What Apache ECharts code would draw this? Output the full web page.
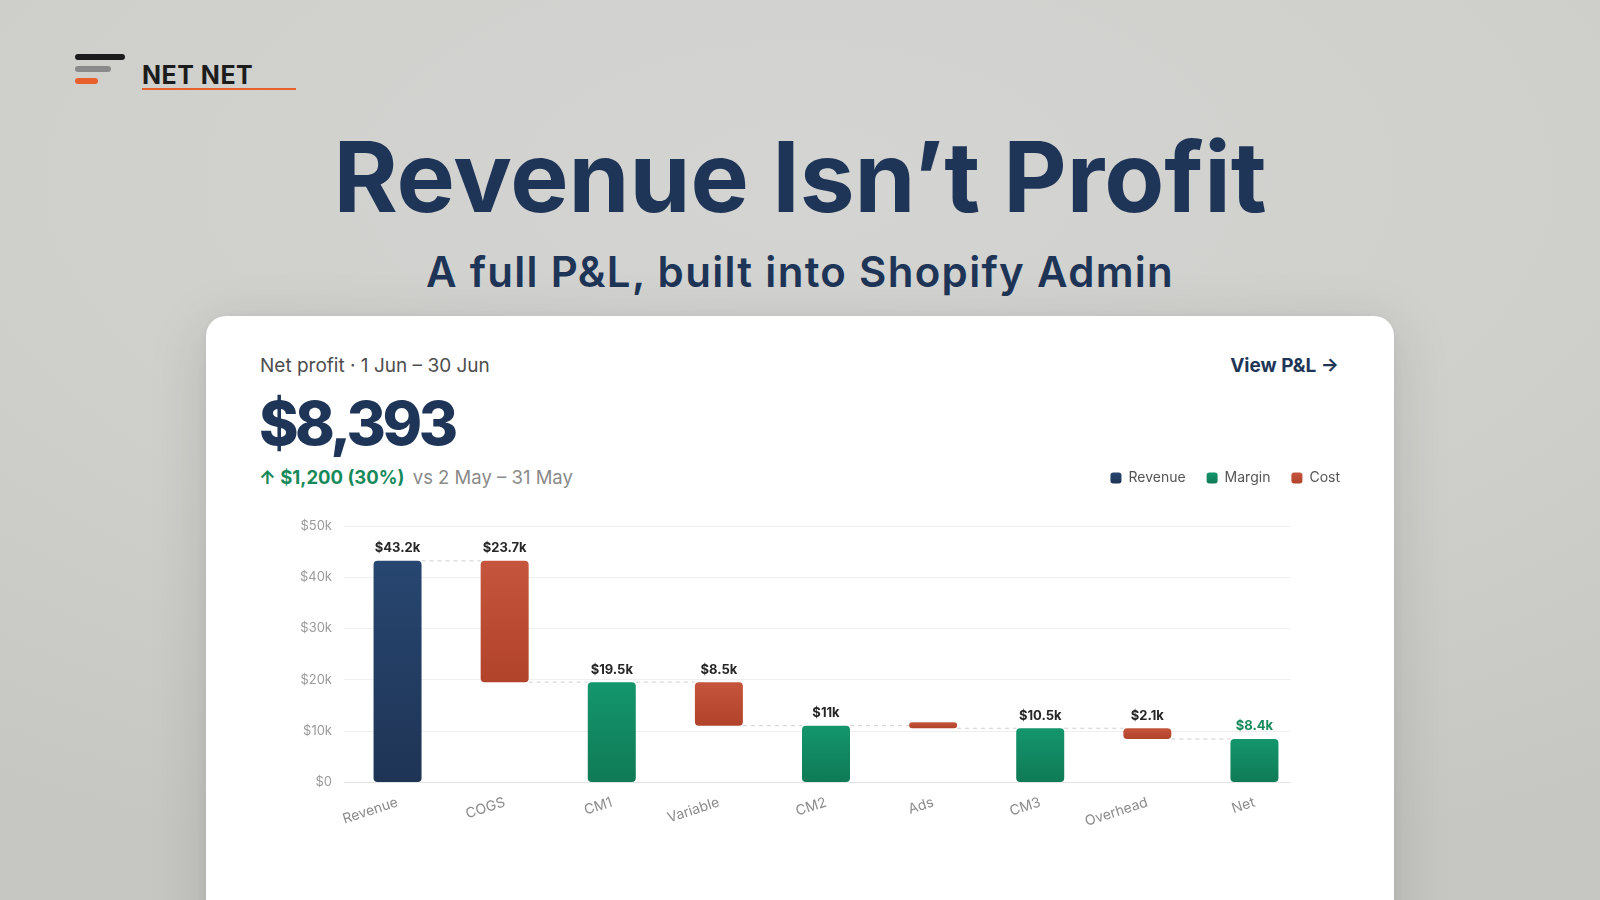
<!DOCTYPE html>
<html>
<head>
<meta charset="utf-8">
<script src="https://cdn.jsdelivr.net/npm/echarts@6/dist/echarts.min.js"></script>
<style>
  html, body { margin: 0; padding: 0; }
  body {
    width: 1600px; height: 900px; overflow: hidden; position: relative;
    font-family: Inter, 'Noto Sans', sans-serif;
    background: radial-gradient(ellipse 90% 80% at 50% 20%, #d4d4d2 0%, #cfcfcc 55%, #c6c6c2 100%);
  }
  .abs { position: absolute; white-space: nowrap; }
  .bar { position: absolute; height: 6px; border-radius: 3px; }
  .brand { left: 142px; top: 63px; font-size: 25px; line-height: 25px; font-weight: 700; letter-spacing: 0.5px; color: #1c1c1c; }
  .brand-line { left: 142px; top: 88px; width: 154px; height: 2px; background: #e8602c; }
  .title { left: 0; width: 1600px; text-align: center; top: 128px; font-size: 98px; line-height: 98px; font-weight: 700; color: #1e3557; letter-spacing: 0px; }
  .subtitle { left: 0; width: 1600px; text-align: center; top: 251px; font-size: 42px; line-height: 42px; font-weight: 600; color: #1e3557; letter-spacing: 1.3px; }
  .card {
    position: absolute; left: 206px; top: 316px; width: 1188px; height: 640px;
    background: #fff; border-radius: 20px;
    box-shadow: 0 12px 60px rgba(0,0,0,0.13), 0 2px 10px rgba(0,0,0,0.05);
  }
  .period { left: 260px; top: 356px; font-size: 19px; line-height: 19px; color: #4d4d4d; }
  .big { left: 259px; top: 393px; font-size: 60px; line-height: 60px; font-weight: 800; color: #1e3557; letter-spacing: -3.5px; }
  .delta { left: 259px; top: 468px; font-size: 18.5px; line-height: 19px; color: #8a8a8a; }
  .delta b { color: #178a5b; font-weight: 700; margin-right: 3px; }
  .view { right: 261px; top: 356px; font-size: 19px; line-height: 19px; font-weight: 700; color: #1e3557; }
  #chart { position: absolute; left: 0; top: 0; width: 1600px; height: 900px; }
</style>
</head>
<body>
  <div class="bar" style="left:75px;top:54px;width:50px;background:#1c1c1c"></div>
  <div class="bar" style="left:75px;top:66px;width:36px;background:#8a8a8a"></div>
  <div class="bar" style="left:75px;top:78px;width:23px;background:#e8602c"></div>
  <div class="abs brand">NET NET</div>
  <div class="abs brand-line"></div>

  <div class="abs title">Revenue Isn’t Profit</div>
  <div class="abs subtitle">A full P&amp;L, built into Shopify Admin</div>

  <div class="card"></div>
  <div class="abs period">Net profit · 1 Jun – 30 Jun</div>
  <div class="abs big">$8,393</div>
  <div class="abs delta"><b>↑ $1,200 (30%)</b> vs 2 May – 31 May</div>
  <div class="abs view">View P&amp;L →</div>

  <div id="chart"></div>

<script>
// P&L waterfall, values in $k
var categories = ['Revenue', 'COGS', 'CM1', 'Variable', 'CM2', 'Ads', 'CM3', 'Overhead', 'Net'];
var kinds = ['Revenue', 'Cost', 'Margin', 'Cost', 'Margin', 'Cost', 'Margin', 'Cost', 'Margin'];
var amounts = [43.2, 23.7, 19.5, 8.5, 11, 0.5, 10.5, 2.1, 8.4];
var yTicks = [0, 10, 20, 30, 40, 50];

var BAR_W = 48;
var colors = {
  Revenue: ['#274670', '#1f3455'],
  Margin: ['#14966c', '#0f7a56'],
  Cost: ['#c5563d', '#b2432b']
};

function grad(pair) {
  return new echarts.graphic.LinearGradient(0, 0, 0, 1, [
    { offset: 0, color: pair[0] },
    { offset: 1, color: pair[1] }
  ]);
}

// running totals -> invisible base + level after each step
var base = [], levels = [];
var running = 0;
amounts.forEach(function (v, i) {
  if (kinds[i] === 'Cost') {
    running = running - v;
    base.push(running);
  } else {
    running = v;
    base.push(0);
  }
  levels.push(running);
});

function seriesFor(kind) {
  return {
    name: kind,
    type: 'bar',
    stack: 'w',
    barWidth: BAR_W,
    barMinHeight: kind === 'Cost' ? 6 : 0,
    z: 3,
    itemStyle: { color: grad(colors[kind]), borderRadius: 4 },
    label: {
      show: true,
      position: 'top',
      distance: 6,
      fontFamily: 'Inter',
      fontSize: 13,
      fontWeight: 700,
      color: '#262626',
      formatter: function (p) { return '$' + p.value + 'k'; }
    },
    data: amounts.map(function (v, i) {
      if (kinds[i] !== kind) return '-';
      var item = { value: v };
      if (v < 1) item.label = { show: false };
      if (i === categories.length - 1) item.label = { color: '#178a5b' };
      return item;
    })
  };
}

var chart = echarts.init(document.getElementById('chart'));
chart.setOption({
  animation: false,
  textStyle: { fontFamily: 'Inter' },
  legend: {
    data: ['Revenue', 'Margin', 'Cost'],
    right: 255,
    top: 466,
    icon: 'roundRect',
    itemWidth: 11,
    itemHeight: 11,
    itemGap: 21,
    textStyle: { fontSize: 14, color: '#555', padding: [0, 0, 0, 2] }
  },
  grid: [
    { left: 344, right: 292, top: 526, bottom: 118 },
    // gridlines only: they stop a little short of the last category
    { left: 344, right: 309, top: 526, bottom: 118 }
  ],
  xAxis: [
    {
      type: 'category',
      gridIndex: 0,
      data: categories,
      axisTick: { show: false },
      axisLine: { show: false },
      axisLabel: { rotate: 18, color: '#8c8c8c', fontSize: 14, margin: 20 }
    },
    { type: 'value', gridIndex: 1, min: 0, max: 1, show: false }
  ],
  yAxis: [
    {
      type: 'value',
      gridIndex: 0,
      min: yTicks[0],
      max: yTicks[yTicks.length - 1],
      interval: 10,
      axisLine: { show: false },
      axisTick: { show: false },
      splitLine: { show: false },
      axisLabel: {
        color: '#9a9a9a', fontSize: 13, margin: 12,
        formatter: function (v) { return v === 0 ? '$0' : '$' + v + 'k'; }
      }
    },
    {
      type: 'value',
      gridIndex: 1,
      min: yTicks[0],
      max: yTicks[yTicks.length - 1],
      interval: 10,
      axisLine: { show: false },
      axisTick: { show: false },
      axisLabel: { show: false },
      splitLine: {
        lineStyle: { color: ['#e4e4e4', '#efefef', '#efefef', '#efefef', '#efefef', '#efefef'] }
      }
    }
  ],
  series: [
    {
      name: 'base',
      type: 'bar',
      stack: 'w',
      barWidth: BAR_W,
      silent: true,
      itemStyle: { color: 'transparent' },
      data: base
    },
    seriesFor('Revenue'),
    seriesFor('Margin'),
    seriesFor('Cost'),
    {
      name: 'connector',
      type: 'custom',
      silent: true,
      z: 1,
      encode: { x: 0, y: 1 },
      renderItem: function (params, api) {
        var i = api.value(0);
        var lvl = api.value(1);
        var a = api.coord([i, lvl]);
        var b = api.coord([i + 1, lvl]);
        return {
          type: 'line',
          shape: { x1: a[0] + BAR_W / 2, y1: a[1], x2: b[0] - BAR_W / 2, y2: b[1] },
          style: { stroke: '#cfcfcf', lineWidth: 1, lineDash: [4, 4] }
        };
      },
      data: levels.slice(0, -1).map(function (l, i) { return [i, l]; })
    }
  ]
});
</script>
</body>
</html>
